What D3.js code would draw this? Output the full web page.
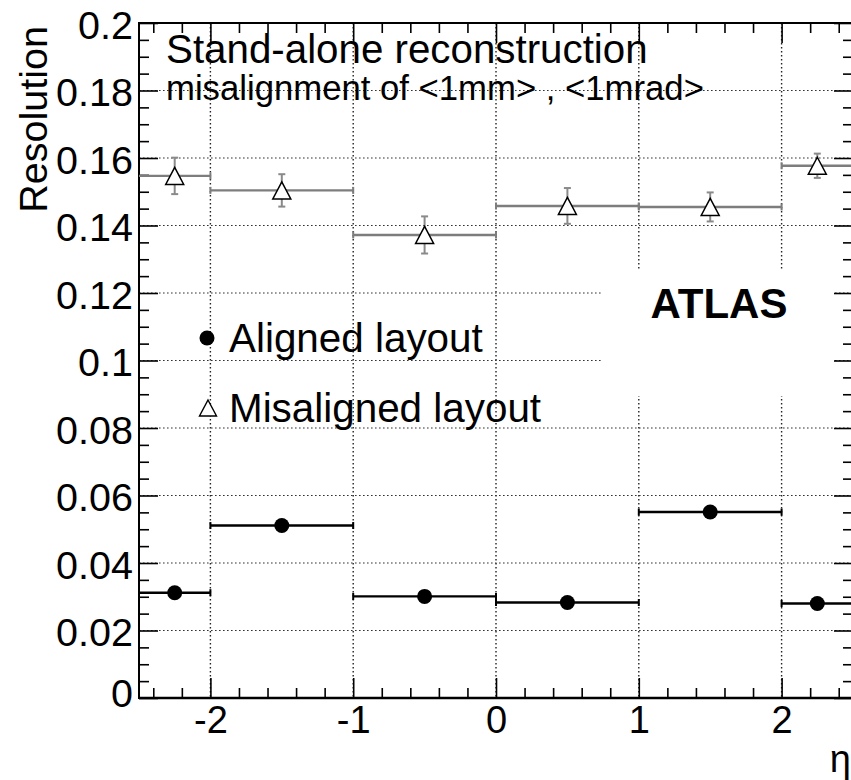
<!DOCTYPE html>
<html>
<head>
<meta charset="utf-8">
<script src="https://cdn.jsdelivr.net/npm/d3@7"></script>
<style>
  body { margin: 0; background: #fff; }
  svg { display: block; }
  text { font-family: "Liberation Sans", Arial, Helvetica, sans-serif; fill: #000; }
</style>
</head>
<body>
<svg id="chart" width="851" height="780"></svg>
<script>
// Bin edges in pseudorapidity and per-bin results
const binEdges = [-2.5, -2, -1, 0, 1, 2, 2.5];
const etaCenters = [-2.25, -1.5, -0.5, 0.5, 1.5, 2.25];
const alignedRes = [0.0312, 0.0511, 0.0301, 0.0283, 0.0551, 0.0280];
const misalignedRes = [0.1547, 0.1504, 0.1372, 0.1458, 0.1455, 0.1577];
const misalignedErr = [0.0054, 0.0048, 0.0055, 0.0053, 0.0043, 0.0036];

// Axis ticks
const xMajorTicks = [-2, -1, 0, 1, 2];
const xTickLabels = ["-2", "-1", "0", "1", "2"];
const yMajorTicks = [0, 0.02, 0.04, 0.06, 0.08, 0.1, 0.12, 0.14, 0.16, 0.18, 0.2];
const yTickLabels = ["0", "0.02", "0.04", "0.06", "0.08", "0.1", "0.12", "0.14", "0.16", "0.18", "0.2"];

// Text
const titleMain = "Stand-alone reconstruction";
const titleSub = "misalignment of <1mm> , <1mrad>";
const legendLabels = ["Aligned layout", "Misaligned layout"];
const experimentLabel = "ATLAS";
const xTitle = "\u03b7";
const yTitle = "Resolution";

const svg = d3.select("#chart");
const plotL = 139, plotR = 853, plotT = 23, plotB = 698;

const x = d3.scaleLinear().domain([-2.5, 2.5]).range([plotL, plotR]);
const y = d3.scaleLinear().domain([0, 0.2]).range([plotB, plotT]);

const near = (a, b) => Math.abs(a - b) < 1e-9;
const xMinor = x.ticks(25).filter(v => !xMajorTicks.some(m => near(m, v)));
const yMinor = y.ticks(40).filter(v => !yMajorTicks.some(m => near(m, v)));

// Grid lines (dotted)
const grid = svg.append("g").attr("stroke", "#333").attr("stroke-width", 1.1)
  .attr("stroke-dasharray", "1.6,2.4");
grid.selectAll("line.gx").data(xMajorTicks).join("line").attr("class", "gx")
  .attr("x1", d => x(d)).attr("x2", d => x(d)).attr("y1", plotT).attr("y2", plotB)
  .attr("stroke", "#222").attr("stroke-width", 1.4);
grid.selectAll("line.gy").data(yMajorTicks.filter(v => v > 0 && v < 0.2)).join("line").attr("class", "gy")
  .attr("x1", plotL).attr("x2", plotR).attr("y1", d => y(d)).attr("y2", d => y(d));

// White pad behind the experiment label
svg.append("rect").attr("x", 603).attr("y", 269).attr("width", 230).attr("height", 127)
  .attr("fill", "#fff");
svg.append("text").attr("x", 719).attr("y", 318).attr("text-anchor", "middle")
  .attr("font-size", 42).attr("font-weight", "bold").text(experimentLabel);

// Axes
function styleAxis(g, fs) {
  g.select(".domain").remove();
  g.selectAll(".tick line").attr("stroke", "#000").attr("stroke-width", 1.6);
  g.attr("font-size", fs).attr("font-family", '"Liberation Sans", Arial, Helvetica, sans-serif');
}
const gxB = svg.append("g").attr("transform", `translate(0,${plotB})`)
  .call(d3.axisBottom(x).tickValues(xMajorTicks).tickSize(-20).tickPadding(8)
    .tickFormat((d, i) => xTickLabels[i]));
styleAxis(gxB, 38);
const gxBm = svg.append("g").attr("transform", `translate(0,${plotB})`)
  .call(d3.axisBottom(x).tickValues(xMinor).tickSize(-10).tickFormat(""));
styleAxis(gxBm, 10);
const gxT = svg.append("g").attr("transform", `translate(0,${plotT})`)
  .call(d3.axisTop(x).tickValues(xMajorTicks).tickSize(-20).tickFormat(""));
styleAxis(gxT, 10);
const gxTm = svg.append("g").attr("transform", `translate(0,${plotT})`)
  .call(d3.axisTop(x).tickValues(xMinor).tickSize(-10).tickFormat(""));
styleAxis(gxTm, 10);

const gyL = svg.append("g").attr("transform", `translate(${plotL},0)`)
  .call(d3.axisLeft(y).tickValues(yMajorTicks).tickSize(-19).tickPadding(6)
    .tickFormat((d, i) => yTickLabels[i]));
styleAxis(gyL, 39.5);
gyL.selectAll(".tick text").attr("dy", d => d === 0 ? "0.22em" : "0.38em");
const gyLm = svg.append("g").attr("transform", `translate(${plotL},0)`)
  .call(d3.axisLeft(y).tickValues(yMinor).tickSize(-10).tickFormat(""));
styleAxis(gyLm, 10);
const gyR = svg.append("g").attr("transform", `translate(${plotR},0)`)
  .call(d3.axisRight(y).tickValues(yMajorTicks).tickSize(-19).tickFormat(""));
styleAxis(gyR, 10);
const gyRm = svg.append("g").attr("transform", `translate(${plotR},0)`)
  .call(d3.axisRight(y).tickValues(yMinor).tickSize(-10).tickFormat(""));
styleAxis(gyRm, 10);

// Frame
svg.append("rect").attr("x", plotL).attr("y", plotT).attr("width", plotR - plotL).attr("height", plotB - plotT)
  .attr("fill", "none").attr("stroke", "#000").attr("stroke-width", 2);
svg.append("line").attr("x1", plotL).attr("x2", plotR).attr("y1", plotB).attr("y2", plotB)
  .attr("stroke", "#000").attr("stroke-width", 2.6);

// Axis titles
svg.append("text").attr("x", 851).attr("y", 772).attr("text-anchor", "end")
  .attr("font-size", 38).text(xTitle);
svg.append("text").attr("transform", `translate(47,${plotT + 3}) rotate(-90)`).attr("text-anchor", "end")
  .attr("font-size", 39.5).text(yTitle);

// Titles
svg.append("text").attr("x", 166).attr("y", 63).attr("font-size", 40.3).text(titleMain);
svg.append("text").attr("x", 166).attr("y", 100).attr("font-size", 34.7).text(titleSub);

// Marker shapes
const triPath = (w, h) => `M0,${-h / 2}L${w / 2},${h / 2}L${-w / 2},${h / 2}Z`;

// Misaligned series: gray error bars, open triangles
const mis = d3.range(etaCenters.length).map(i => ({
  x0: binEdges[i], x1: binEdges[i + 1], xc: etaCenters[i], v: misalignedRes[i], e: misalignedErr[i]
}));
const gMis = svg.append("g");
const capH = 3.5;
gMis.selectAll("line.h").data(mis).join("line").attr("class", "h")
  .attr("x1", d => x(d.x0)).attr("x2", d => Math.min(x(d.x1), plotR))
  .attr("y1", d => y(d.v)).attr("y2", d => y(d.v))
  .attr("stroke", "#7d7d7d").attr("stroke-width", 2.4);
gMis.selectAll("line.hc").data(mis.flatMap(d => [{ xe: d.x0, v: d.v }, { xe: d.x1, v: d.v }]).filter(d => d.xe > -2.5 && d.xe < 2.5))
  .join("line").attr("class", "hc")
  .attr("x1", d => x(d.xe)).attr("x2", d => x(d.xe))
  .attr("y1", d => y(d.v) - capH).attr("y2", d => y(d.v) + capH)
  .attr("stroke", "#7d7d7d").attr("stroke-width", 2);
gMis.selectAll("line.v").data(mis).join("line").attr("class", "v")
  .attr("x1", d => x(d.xc)).attr("x2", d => x(d.xc))
  .attr("y1", d => y(d.v + d.e)).attr("y2", d => y(d.v - d.e))
  .attr("stroke", "#8a8a8a").attr("stroke-width", 2);
gMis.selectAll("line.vc").data(mis.flatMap(d => [{ xc: d.xc, v: d.v + d.e }, { xc: d.xc, v: d.v - d.e }]))
  .join("line").attr("class", "vc")
  .attr("x1", d => x(d.xc) - capH).attr("x2", d => x(d.xc) + capH)
  .attr("y1", d => y(d.v)).attr("y2", d => y(d.v))
  .attr("stroke", "#8a8a8a").attr("stroke-width", 2);
gMis.selectAll("path").data(mis).join("path")
  .attr("transform", d => `translate(${x(d.xc)},${y(d.v)})`)
  .attr("d", triPath(18, 17)).attr("fill", "#fff").attr("stroke", "#000").attr("stroke-width", 1.5);

// Aligned series: black bars, filled circles
const ali = d3.range(etaCenters.length).map(i => ({
  x0: binEdges[i], x1: binEdges[i + 1], xc: etaCenters[i], v: alignedRes[i]
}));
const gAli = svg.append("g");
gAli.selectAll("line.h").data(ali).join("line").attr("class", "h")
  .attr("x1", d => x(d.x0)).attr("x2", d => Math.min(x(d.x1), plotR))
  .attr("y1", d => y(d.v)).attr("y2", d => y(d.v))
  .attr("stroke", "#000").attr("stroke-width", 2.4);
gAli.selectAll("line.hc").data(ali.flatMap(d => [{ xe: d.x0, v: d.v }, { xe: d.x1, v: d.v }]).filter(d => d.xe > -2.5 && d.xe < 2.5))
  .join("line").attr("class", "hc")
  .attr("x1", d => x(d.xe)).attr("x2", d => x(d.xe))
  .attr("y1", d => y(d.v) - capH).attr("y2", d => y(d.v) + capH)
  .attr("stroke", "#000").attr("stroke-width", 2);
gAli.selectAll("circle").data(ali).join("circle")
  .attr("cx", d => x(d.xc)).attr("cy", d => y(d.v)).attr("r", 7.5).attr("fill", "#000");

// Legend
const leg = svg.append("g");
leg.append("circle").attr("cx", 207).attr("cy", 338).attr("r", 7.5).attr("fill", "#000");
leg.append("text").attr("x", 229).attr("y", 352).attr("font-size", 40.4).text(legendLabels[0]);
leg.append("path").attr("transform", "translate(208,408)").attr("d", triPath(17, 16))
  .attr("fill", "#fff").attr("stroke", "#000").attr("stroke-width", 1.4);
leg.append("text").attr("x", 229).attr("y", 422).attr("font-size", 40.4).text(legendLabels[1]);
</script>
</body>
</html>
